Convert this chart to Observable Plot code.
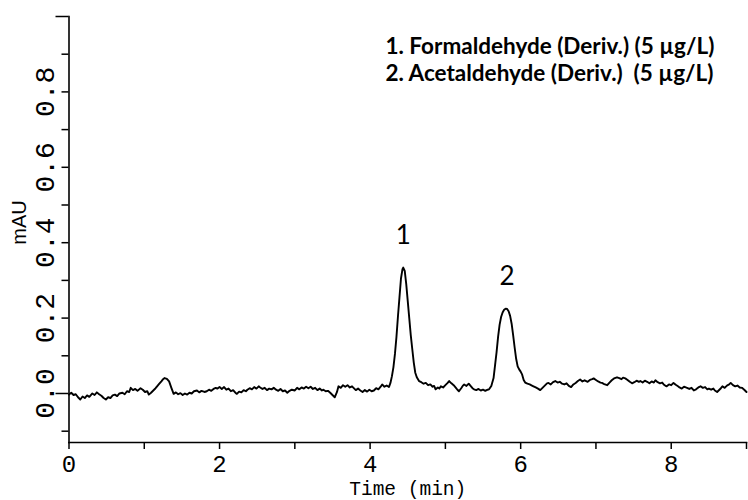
<!DOCTYPE html>
<html>
<head>
<meta charset="utf-8">
<script src="https://cdn.jsdelivr.net/npm/d3@7"></script>
<script src="https://cdn.jsdelivr.net/npm/@observablehq/plot@0.6"></script>
<style>
  html, body { margin: 0; padding: 0; background: #fff; }
  #chart svg { display: block; }
</style>
</head>
<body>
<div id="chart"></div>
<script>
// Chromatogram trace (time in min, signal in mAU)
const time = [
0.00,0.03,0.06,0.09,0.12,0.15,0.18,0.21,0.24,0.27,0.31,0.34,0.37,0.40,0.43,0.46,0.49,0.52,0.55,0.58,
0.61,0.64,0.67,0.71,0.74,0.77,0.80,0.82,0.85,0.88,0.91,0.95,0.98,1.01,1.04,1.06,1.09,1.12,1.15,1.17,
1.20,1.23,1.25,1.27,1.30,1.33,1.36,1.39,1.42,1.45,1.48,1.51,1.54,1.57,1.60,1.63,1.66,1.70,1.73,1.76,
1.80,1.83,1.86,1.89,1.92,1.95,1.97,2.00,2.03,2.06,2.09,2.12,2.15,2.18,2.21,2.23,2.26,2.29,2.32,2.35,
2.37,2.40,2.43,2.46,2.49,2.52,2.54,2.57,2.60,2.63,2.66,2.69,2.72,2.75,2.78,2.81,2.84,2.87,2.90,2.93,
2.96,3.00,3.03,3.06,3.09,3.12,3.15,3.18,3.21,3.24,3.27,3.30,3.33,3.36,3.38,3.41,3.44,3.47,3.50,3.53,
3.56,3.58,3.61,3.64,3.67,3.70,3.73,3.76,3.78,3.81,3.84,3.87,3.90,3.93,3.96,3.99,4.02,4.05,4.08,4.11,
4.14,4.16,4.19,4.22,4.25,4.27,4.29,4.31,4.33,4.35,4.37,4.39,4.41,4.43,4.44,4.46,4.48,4.50,4.52,4.54,
4.56,4.58,4.60,4.62,4.65,4.68,4.71,4.74,4.77,4.80,4.83,4.85,4.87,4.90,4.92,4.94,4.97,5.00,5.03,5.05,
5.08,5.11,5.14,5.16,5.18,5.21,5.23,5.25,5.28,5.31,5.34,5.36,5.38,5.41,5.44,5.47,5.50,5.53,5.56,5.58,
5.61,5.64,5.66,5.68,5.70,5.72,5.74,5.76,5.78,5.80,5.82,5.84,5.86,5.88,5.90,5.92,5.94,5.96,5.98,6.00,
6.02,6.04,6.06,6.09,6.12,6.15,6.17,6.20,6.23,6.26,6.29,6.32,6.35,6.37,6.40,6.43,6.46,6.49,6.52,6.55,
6.58,6.61,6.64,6.67,6.70,6.73,6.76,6.79,6.82,6.85,6.89,6.92,6.95,6.97,7.00,7.03,7.06,7.08,7.11,7.15,
7.18,7.21,7.24,7.28,7.31,7.34,7.36,7.39,7.42,7.45,7.48,7.51,7.54,7.57,7.59,7.62,7.65,7.68,7.71,7.74,
7.77,7.79,7.82,7.85,7.88,7.90,7.92,7.94,7.97,8.00,8.03,8.06,8.09,8.11,8.14,8.17,8.21,8.24,8.27,8.30,
8.33,8.36,8.39,8.42,8.45,8.48,8.50,8.53,8.56,8.58,8.61,8.64,8.66,8.68,8.71,8.74,8.77,8.79,8.82,8.85,
8.88,8.91,8.94,8.97,9.00
];
const signal = [
-0.003,0.002,-0.004,-0.002,-0.010,-0.016,-0.008,-0.012,-0.005,-0.009,0.000,-0.004,0.003,-0.002,-0.006,-0.012,-0.016,-0.010,-0.012,-0.005,
-0.003,-0.007,0.000,0.002,-0.002,0.006,0.004,0.015,0.009,0.012,0.007,0.014,0.010,0.004,0.006,-0.003,0.002,0.008,0.014,0.019,
0.026,0.033,0.038,0.041,0.039,0.032,0.015,-0.001,0.003,-0.002,0.001,-0.004,0.000,-0.003,0.002,0.000,0.006,0.008,0.003,0.007,
0.004,0.006,0.010,0.007,0.012,0.015,0.013,0.017,0.012,0.017,0.010,0.013,0.006,0.009,0.002,-0.001,0.005,0.003,0.009,0.006,
0.010,0.014,0.011,0.017,0.013,0.019,0.016,0.012,0.015,0.009,0.013,0.011,0.015,0.010,0.007,0.012,0.006,0.008,0.002,0.007,
0.010,0.008,0.015,0.011,0.016,0.013,0.018,0.014,0.018,0.012,0.015,0.009,0.013,0.008,0.010,0.006,0.007,0.002,-0.004,-0.010,
0.004,0.019,0.015,0.022,0.018,0.022,0.016,0.019,0.015,0.009,0.013,0.008,0.004,0.009,0.005,0.010,0.006,0.008,0.014,0.011,
0.018,0.024,0.018,0.021,0.017,0.028,0.046,0.070,0.105,0.150,0.205,0.255,0.305,0.330,0.334,0.325,0.290,0.245,0.200,0.155,
0.118,0.082,0.055,0.043,0.033,0.030,0.026,0.028,0.022,0.024,0.018,0.020,0.011,0.016,0.013,0.019,0.016,0.022,0.028,0.033,
0.027,0.022,0.015,0.010,0.006,0.014,0.020,0.024,0.020,0.026,0.019,0.014,0.011,0.009,0.012,0.008,0.010,0.007,0.010,0.011,
0.020,0.041,0.075,0.110,0.150,0.182,0.203,0.215,0.222,0.225,0.224,0.218,0.206,0.185,0.155,0.122,0.092,0.072,0.064,0.058,
0.050,0.036,0.029,0.026,0.024,0.021,0.019,0.016,0.013,0.009,0.015,0.021,0.027,0.028,0.024,0.030,0.033,0.029,0.031,0.026,
0.024,0.027,0.020,0.017,0.024,0.028,0.033,0.037,0.032,0.035,0.031,0.036,0.038,0.040,0.036,0.032,0.029,0.028,0.025,0.022,
0.029,0.035,0.040,0.043,0.041,0.038,0.042,0.040,0.036,0.031,0.027,0.030,0.034,0.031,0.033,0.029,0.034,0.031,0.027,0.032,
0.029,0.035,0.030,0.027,0.029,0.024,0.021,0.019,0.024,0.022,0.028,0.023,0.019,0.016,0.013,0.018,0.015,0.012,0.015,0.008,
0.011,0.016,0.019,0.015,0.017,0.011,0.013,0.010,0.013,0.008,0.004,0.010,0.014,0.019,0.015,0.021,0.024,0.028,0.022,0.019,
0.021,0.016,0.015,0.010,0.004
];

// Peaks
const peakNames = ["1", "2"];
const peakTimes = [4.44, 5.82];
const peakHeights = [0.334, 0.225];

// Legend
const legendLines = [
  "1. Formaldehyde (Deriv.) (5 \u00b5g/L)",
  "2. Acetaldehyde (Deriv.)  (5 \u00b5g/L)"
];

// Axes
const xTicks = [0, 1, 2, 3, 4, 5, 6, 7, 8, 9];
const xLabelTicks = [0, 2, 4, 6, 8];
const yMinorTicks = [-0.1, 0.1, 0.2, 0.3, 0.4, 0.5, 0.6, 0.7, 0.8, 0.9];
const yLongTicks = [0.0, 1.0];
const yLabelTicks = [0.0, 0.2, 0.4, 0.6, 0.8];
const xTitle = "Time (min)";
const yTitle = "mAU";

const trace = time.map((t, i) => ({t, v: signal[i]}));
const peaks = peakNames.map((n, i) => ({name: n, t: peakTimes[i], v: peakHeights[i]}));
const labelSet = new Set(xLabelTicks);
const mono = "Liberation Mono";

const chart = Plot.plot({
  width: 748,
  height: 500,
  marginLeft: 68.5,
  marginRight: 2,
  marginTop: 16,
  marginBottom: 58,
  style: {background: "#fff", color: "#000", fontFamily: mono, overflow: "visible"},
  x: {domain: [0, 9]},
  y: {domain: [-0.13, 1.0]},
  marks: [
    Plot.axisX({ticks: xTicks, tickSize: 7, tickPadding: 5, strokeWidth: 1.5,
      tickFormat: d => labelSet.has(d) ? String(d) : "", fontSize: 24, fontFamily: mono, label: null}),
    Plot.axisY({ticks: yMinorTicks, tickSize: 7, strokeWidth: 1.5, tickFormat: () => "", label: null}),
    Plot.axisY({ticks: yLongTicks, tickSize: 13, strokeWidth: 1.5, tickFormat: () => "", label: null}),
    Plot.text(yLabelTicks, {y: d => d, text: d => d.toFixed(1), frameAnchor: "left", dx: -15.5,
      rotate: -90, lineAnchor: "bottom", textAnchor: "middle", fontSize: 28, fontFamily: mono, fill: "#000"}),
    Plot.frame({anchor: "left", stroke: "#000", strokeWidth: 1.6}),
    Plot.frame({anchor: "bottom", stroke: "#000", strokeWidth: 1.6}),
    Plot.line(trace, {x: "t", y: "v", stroke: "#000", strokeWidth: 1.9}),
    Plot.text(peaks, {x: "t", y: "v", text: "name", dy: -24, lineAnchor: "bottom",
      fontFamily: "Lato", fontSize: 26, fill: "#000"}),
    Plot.text([legendLines.join("\n")], {frameAnchor: "top-left", dx: 316.5, dy: 18.4, lineAnchor: "top",
      textAnchor: "start", lineHeight: 1.2, fontFamily: "Lato", fontWeight: "bold", fontSize: 22.5, fill: "#000"}),
    Plot.text([xTitle], {frameAnchor: "bottom", dy: 52.5, lineAnchor: "bottom", fontFamily: mono, fontSize: 19.5, fill: "#000"}),
    Plot.text([yTitle], {frameAnchor: "left", dx: -43, dy: -7, rotate: -90, lineAnchor: "bottom",
      textAnchor: "middle", fontFamily: "Liberation Sans Narrow, Liberation Sans", fontSize: 20, fill: "#000"})
  ]
});
document.getElementById("chart").appendChild(chart);
</script>
</body>
</html>
